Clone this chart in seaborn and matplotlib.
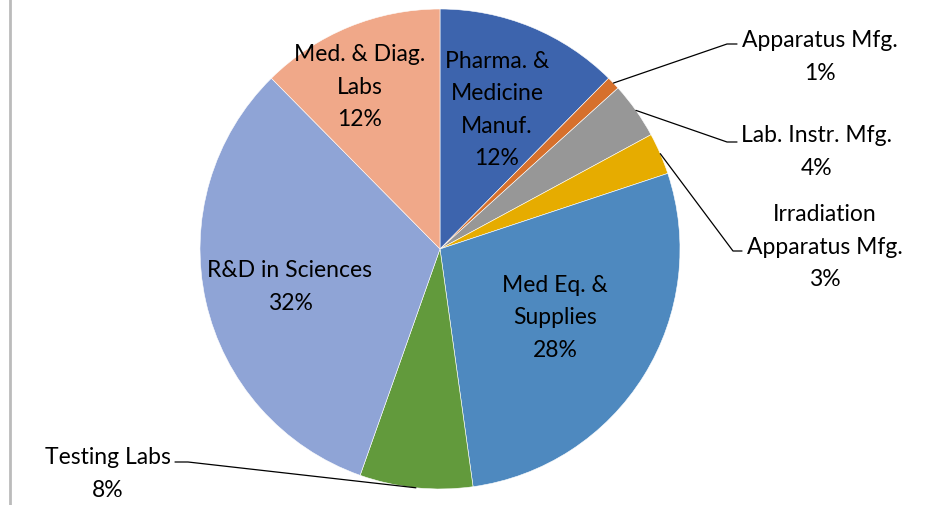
import numpy as np
import seaborn as sns
import matplotlib.pyplot as plt

# Data (share of establishments, %)
sectors = ['Pharma. &\nMedicine\nManuf.', 'Apparatus Mfg.', 'Lab. Instr. Mfg.',
           'Irradiation\nApparatus Mfg.', 'Med Eq. &\nSupplies', 'Testing Labs',
           'R&D in Sciences', 'Med. & Diag.\nLabs']
shares = [12.4, 0.9, 3.8, 2.8, 27.9, 7.6, 32.2, 12.4]
colors = ['#3D64AD', '#D6702C', '#979797', '#E6AC00', '#4E89BF', '#629A3C', '#8FA4D6', '#F0A889']

sns.set_theme(style='white')
plt.rcParams['font.family'] = ['Lato', 'DejaVu Sans']

fig = plt.figure(figsize=(9.28, 5.06), dpi=100)
ax = fig.add_axes([0, 0, 1, 1])

cx, cy, r = 440, 256, 240
wedges, _ = ax.pie(shares, colors=sns.color_palette(colors), startangle=90, counterclock=False,
                   center=(cx, cy), radius=r, frame=True,
                   wedgeprops=dict(edgecolor='white', linewidth=0.4))
ax.set_xlim(0, 928)
ax.set_ylim(0, 506)
ax.axis('off')

fs = 16.5
ls = 1.65
pct = [f'{round(s):.0f}%' for s in shares]

# labels inside the pie
inside = {0: (497, 506 - 110), 4: (555, 506 - 318), 6: (290, 506 - 287), 7: (360, 506 - 87)}
for i, (x, y) in inside.items():
    ax.text(x, y, sectors[i] + '\n' + pct[i], ha='center', va='center', fontsize=fs,
            color='black', linespacing=ls)

# labels outside with leader lines: (text centre, elbow point, end point)
outside = {
    1: ((820, 506 - 57), (727, 506 - 45), (737, 506 - 45)),
    2: ((817, 506 - 152), (727, 506 - 143), (737, 506 - 143)),
    3: ((825, 506 - 247), (733, 506 - 252), (742, 506 - 252)),
    5: ((108, 506 - 474), (188, 506 - 463), (175, 506 - 463)),
}
for i, (tpos, elbow, end) in outside.items():
    w = wedges[i]
    mid = np.deg2rad((w.theta1 + w.theta2) / 2)
    sx, sy = cx + r * np.cos(mid), cy + r * np.sin(mid)
    ax.plot([sx, elbow[0], end[0]], [sy, elbow[1], end[1]], color='black', lw=0.9)
    ax.text(tpos[0], tpos[1], sectors[i] + '\n' + pct[i], ha='center', va='center',
            fontsize=fs, color='black', linespacing=ls)

# left border line
ax.plot([10, 10], [0, 506], color='#BBBBBB', lw=2)

fig.savefig('out.png', dpi=100)
